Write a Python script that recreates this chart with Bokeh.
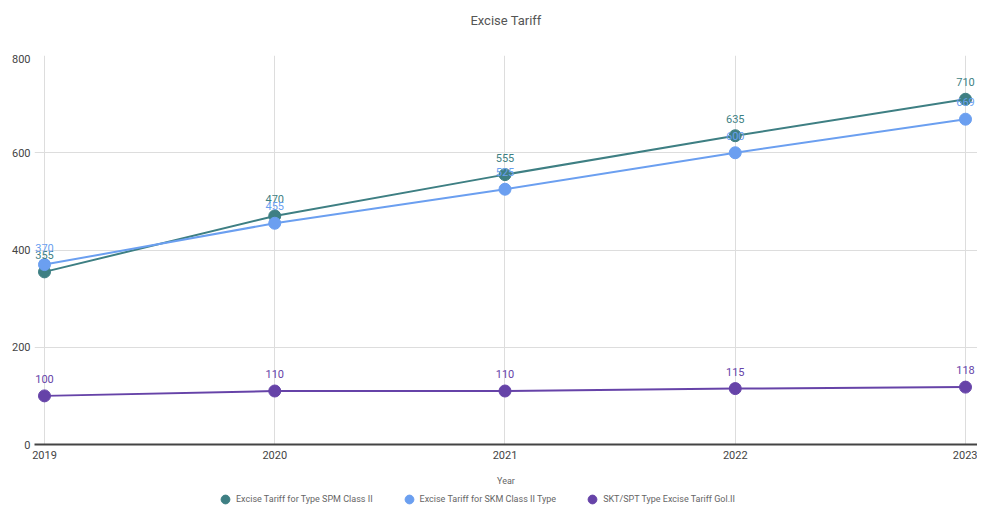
from bokeh.plotting import figure
from bokeh.embed import file_html
from bokeh.resources import INLINE
from bokeh.layouts import column
from bokeh.models import ColumnDataSource, Legend, LegendItem, FixedTicker, Range1d, LabelSet, Label
from bokeh.core.properties import value

title_text = "Excise Tariff"
x_label = "Year"
years = [2019, 2020, 2021, 2022, 2023]
spm = [355, 470, 555, 635, 710]
skm = [370, 455, 525, 600, 669]
skt = [100, 110, 110, 115, 118]
names = ["Excise Tariff for Type SPM Class II", "Excise Tariff for SKM Class II Type", "SKT/SPT Type Excise Tariff Gol.II"]
colors = ["#3e7f83", "#6b9ff0", "#6643a8"]
y_ticks = [0, 200, 400, 600, 800]

W = 977

# title strip
tp = figure(width=W, height=54, output_backend="svg", toolbar_location=None,
            x_range=Range1d(0, W), y_range=Range1d(0, 54),
            x_axis_type=None, y_axis_type=None,
            min_border_left=0, min_border_right=0, min_border_top=0, min_border_bottom=0)
tp.outline_line_color = None
tp.grid.visible = False
tp.add_layout(Label(x=W / 2, y=34, text=title_text, text_align="center", text_baseline="middle",
                    text_font="Roboto", text_font_size="13px", text_color="#555555"))

# main chart
p = figure(width=W, height=434, output_backend="svg", toolbar_location=None,
           x_range=Range1d(2018.9566, 2023.0521), y_range=Range1d(0, 800),
           min_border_left=34, min_border_right=0, min_border_top=1, min_border_bottom=40)
p.outline_line_color = None

p.xaxis.ticker = FixedTicker(ticks=years)
p.yaxis.ticker = FixedTicker(ticks=y_ticks)
p.xgrid.ticker = FixedTicker(ticks=years)
p.ygrid.ticker = FixedTicker(ticks=y_ticks)
p.grid.grid_line_color = "#dddddd"
p.grid.grid_line_width = 1

p.yaxis.axis_line_color = None
p.yaxis.major_tick_line_color = None
p.yaxis.major_tick_out = 0
p.yaxis.major_tick_in = 0
p.yaxis.minor_tick_line_color = None
p.yaxis.major_label_text_font_size = "11px"
p.yaxis.major_label_text_color = "#444444"
p.yaxis.major_label_text_font = "Roboto"
p.yaxis.major_label_standoff = 4

p.xaxis.axis_line_color = "#444444"
p.xaxis.axis_line_width = 2
p.xaxis.major_tick_line_color = None
p.xaxis.major_tick_out = 0
p.xaxis.minor_tick_line_color = None
p.xaxis.major_label_text_font_size = "11px"
p.xaxis.major_label_text_color = "#444444"
p.xaxis.major_label_text_font = "Roboto"
p.xaxis.major_label_standoff = 6
p.xaxis.axis_label = x_label
p.xaxis.axis_label_text_font_size = "9px"
p.xaxis.axis_label_text_font_style = "normal"
p.xaxis.axis_label_text_color = "#666666"
p.xaxis.axis_label_text_font = "Roboto"
p.xaxis.axis_label_standoff = 14

for vals, col in zip([spm, skm, skt], colors):
    src = ColumnDataSource(dict(x=years, y=vals))
    p.line("x", "y", source=src, line_color=col, line_width=2)
    p.scatter("x", "y", source=src, size=12, fill_color=col, line_color=col)
for vals, col in zip([spm, skm, skt], colors):
    src = ColumnDataSource(dict(x=years, y=vals, t=[str(v) for v in vals]))
    lab = LabelSet(x="x", y="y", text="t", source=src, text_color=col, text_font_size="11px",
                   text_font=value("Roboto"), text_align="center", text_baseline="bottom", y_offset=13)
    p.add_layout(lab)

# legend strip (glyph data lies outside its ranges, so only the legend shows)
lp = figure(width=W, height=20, output_backend="svg", toolbar_location=None,
            x_range=Range1d(0, 1), y_range=Range1d(0, 1),
            x_axis_type=None, y_axis_type=None,
            min_border_left=0, min_border_right=0, min_border_top=0, min_border_bottom=0)
lp.outline_line_color = None
lp.grid.visible = False
items = []
for vals, name, col in zip([spm, skm, skt], names, colors):
    src = ColumnDataSource(dict(x=years, y=vals))
    c = lp.scatter("x", "y", source=src, size=12, fill_color=col, line_color=col)
    items.append(LegendItem(label=name, renderers=[c]))
legend = Legend(items=items, orientation="horizontal", location=(180, -2),
                label_text_font_size="9px", label_text_color="#666666", label_text_font="Roboto",
                glyph_width=22, glyph_height=22, spacing=25, border_line_color=None,
                background_fill_alpha=0, padding=0, margin=0, label_standoff=0,
                label_height=11)
lp.add_layout(legend, "center")

layout = column(tp, p, lp, spacing=0)
open("out.html", "w").write(file_html(layout, INLINE))
